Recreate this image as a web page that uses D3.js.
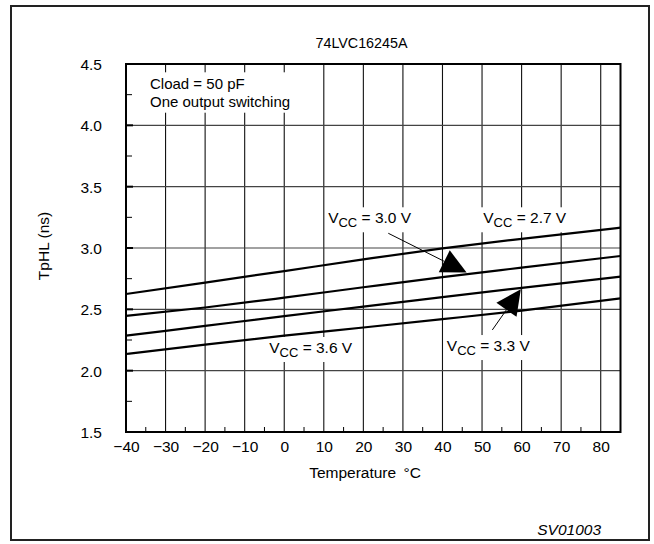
<!DOCTYPE html>
<html>
<head>
<meta charset="utf-8">
<script src="https://cdn.jsdelivr.net/npm/d3@7/dist/d3.min.js"></script>
<style>
  html, body { margin: 0; padding: 0; background: #fff; }
  svg { display: block; font-family: "Liberation Sans", Arial, Helvetica, sans-serif; }
</style>
</head>
<body>
<svg id="chart" width="654" height="544"></svg>
<script>
// ---- data ----
const title = "74LVC16245A";
const temps = [-40, -20, 0, 20, 40, 60, 85];
const vcc27 = [2.625, 2.718, 2.812, 2.907, 2.997, 3.075, 3.166];
const vcc30 = [2.447, 2.515, 2.595, 2.68, 2.763, 2.84, 2.935];
const vcc33 = [2.285, 2.365, 2.445, 2.522, 2.60, 2.675, 2.766];
const vcc36 = [2.136, 2.213, 2.285, 2.352, 2.42, 2.49, 2.59];
const xTicks = [-40, -30, -20, -10, 0, 10, 20, 30, 40, 50, 60, 70, 80];
const xMinor = [-35, -25, -15, -5, 5, 15, 25, 35, 45, 55, 65, 75];
const yTicks = [1.5, 2.0, 2.5, 3.0, 3.5, 4.0, 4.5];
const yMinor = [1.75, 2.25, 2.75, 3.25, 3.75, 4.25];
const noteLines = ["Cload = 50 pF", "One output switching"];
// labels: voltage text, temp, value(baseline)
const labels = [
  { v: "3.0 V", t: 11.1, val: 3.2015 },
  { v: "2.7 V", t: 50.3, val: 3.2015 },
  { v: "3.6 V", t: -3.8, val: 2.144 },
  { v: "3.3 V", t: 41.1, val: 2.16 }
];
// arrows: from (t0,v0) to tip (t1,v1)
const arrows = [
  { t0: 26.3, v0: 3.12, t1: 46.1, v1: 2.80 },
  { t0: 52.6, v0: 2.332, t1: 59.8, v1: 2.663 }
];

const svg = d3.select("#chart");
const x = d3.scaleLinear().domain([-40, 85]).range([126, 620.5]);
const y = d3.scaleLinear().domain([1.5, 4.5]).range([432, 64]);
const FS = 15.5;

// outer frame
svg.append("rect").attr("x", 11).attr("y", 6).attr("width", 638).attr("height", 534)
  .attr("fill", "#fff").attr("stroke", "#222").attr("stroke-width", 2);

// title
svg.append("text").attr("x", 361.5).attr("y", 48.3).attr("text-anchor", "middle")
  .attr("font-size", 14.3).text(title);

// gridlines
const g = svg.append("g");
g.selectAll(".vg").data(xTicks.filter(d => d > -40)).enter().append("line")
  .attr("x1", d => x(d)).attr("x2", d => x(d)).attr("y1", y(4.5)).attr("y2", y(1.5))
  .attr("stroke", "#111").attr("stroke-width", 1.1);
g.selectAll(".hg").data(yTicks.filter(d => d > 1.5 && d < 4.5)).enter().append("line")
  .attr("x1", x(-40)).attr("x2", x(85)).attr("y1", d => y(d)).attr("y2", d => y(d))
  .attr("stroke", "#444").attr("stroke-width", 1.1);

// minor ticks
g.selectAll(".xm").data(xMinor).enter().append("line")
  .attr("x1", d => x(d)).attr("x2", d => x(d)).attr("y1", y(1.5)).attr("y2", y(1.5) - 5)
  .attr("stroke", "#000").attr("stroke-width", 1);
g.selectAll(".ym").data(yMinor).enter().append("line")
  .attr("x1", x(-40)).attr("x2", x(-40) + 6).attr("y1", d => y(d)).attr("y2", d => y(d))
  .attr("stroke", "#000").attr("stroke-width", 1);
g.selectAll(".yM").data(yTicks).enter().append("line")
  .attr("x1", x(-40)).attr("x2", x(-40) + 7).attr("y1", d => y(d)).attr("y2", d => y(d))
  .attr("stroke", "#000").attr("stroke-width", 2);

// note with white background
const note = svg.append("g");
const noteRect = note.append("rect").attr("fill", "#fff");
const noteText = note.append("text").attr("font-size", 15);
noteLines.forEach((s, i) => {
  noteText.append("tspan").attr("x", 150).attr("y", 89.3 + i * 17.4).text(s);
});
{
  const b = noteText.node().getBBox();
  noteRect.attr("x", b.x - 4).attr("y", b.y - 3).attr("width", b.width + 8).attr("height", b.height + 6);
}

// voltage labels with white background
labels.forEach(l => {
  const lg = svg.append("g");
  const r = lg.append("rect").attr("fill", "#fff");
  const t = lg.append("text").attr("x", x(l.t)).attr("y", y(l.val)).attr("font-size", FS);
  t.append("tspan").text("V");
  t.append("tspan").attr("font-size", 13).attr("dy", 4).text("CC");
  t.append("tspan").attr("dy", -4).text(" = " + l.v);
  const b = t.node().getBBox();
  r.attr("x", b.x - 3).attr("y", b.y - 2).attr("width", b.width + 6).attr("height", b.height + 4);
});

// data lines
const line = d3.line().x(d => x(d[0])).y(d => y(d[1])).curve(d3.curveMonotoneX);
[vcc27, vcc30, vcc33, vcc36].forEach(s => {
  svg.append("path").datum(temps.map((t, i) => [t, s[i]]))
    .attr("d", line).attr("fill", "none").attr("stroke", "#000").attr("stroke-width", 2.2);
});

// arrows
arrows.forEach(a => {
  const x0 = x(a.t0), y0 = y(a.v0), x1 = x(a.t1), y1 = y(a.v1);
  const dx = x1 - x0, dy = y1 - y0, L = Math.hypot(dx, dy);
  const ux = dx / L, uy = dy / L, px = -uy, py = ux;
  const len = 25, hw = 12.3;
  const mx = x1 - ux * len, my = y1 - uy * len;
  svg.append("line").attr("x1", x0).attr("y1", y0).attr("x2", mx).attr("y2", my)
    .attr("stroke", "#000").attr("stroke-width", 1);
  svg.append("path").attr("d", `M${x1},${y1}L${mx + px * hw},${my + py * hw}L${mx - px * hw},${my - py * hw}Z`)
    .attr("fill", "#000");
});

// plot frame
svg.append("rect").attr("x", x(-40)).attr("y", y(4.5)).attr("width", x(85) - x(-40)).attr("height", y(1.5) - y(4.5))
  .attr("fill", "none").attr("stroke", "#000").attr("stroke-width", 2);

// axes labels via d3 axes
const fmtX = d => (d < 0 ? "\u2212" + Math.abs(d) : String(d));
const xAxis = svg.append("g").attr("transform", `translate(0,${y(1.5)})`)
  .call(d3.axisBottom(x).tickValues(xTicks).tickFormat(fmtX).tickSize(0));
xAxis.select(".domain").remove();
xAxis.selectAll("text").attr("y", 20).attr("dy", 0).attr("font-size", FS)
  .attr("font-family", "Liberation Sans, Arial, sans-serif").attr("fill", "#000");

const yAxis = svg.append("g").attr("transform", `translate(${x(-40)},0)`)
  .call(d3.axisLeft(y).tickValues(yTicks).tickFormat(d3.format(".1f")).tickSize(0));
yAxis.select(".domain").remove();
yAxis.selectAll("text").attr("x", -24).attr("dy", "0.36em").attr("font-size", FS)
  .attr("font-family", "Liberation Sans, Arial, sans-serif").attr("fill", "#000");

// axis titles
const xt = svg.append("text").attr("x", 365).attr("y", 478).attr("text-anchor", "middle")
  .attr("font-size", FS);
xt.append("tspan").text("Temperature ");
xt.append("tspan").attr("dx", 3).text("\u00B0C");
svg.append("text").attr("transform", "translate(49,246) rotate(-90)").attr("text-anchor", "middle")
  .attr("font-size", FS).text("TpHL (ns)");

// figure code
svg.append("text").attr("x", 601).attr("y", 535).attr("text-anchor", "end")
  .attr("font-size", FS).attr("font-style", "italic").text("SV01003");
</script>
</body>
</html>
